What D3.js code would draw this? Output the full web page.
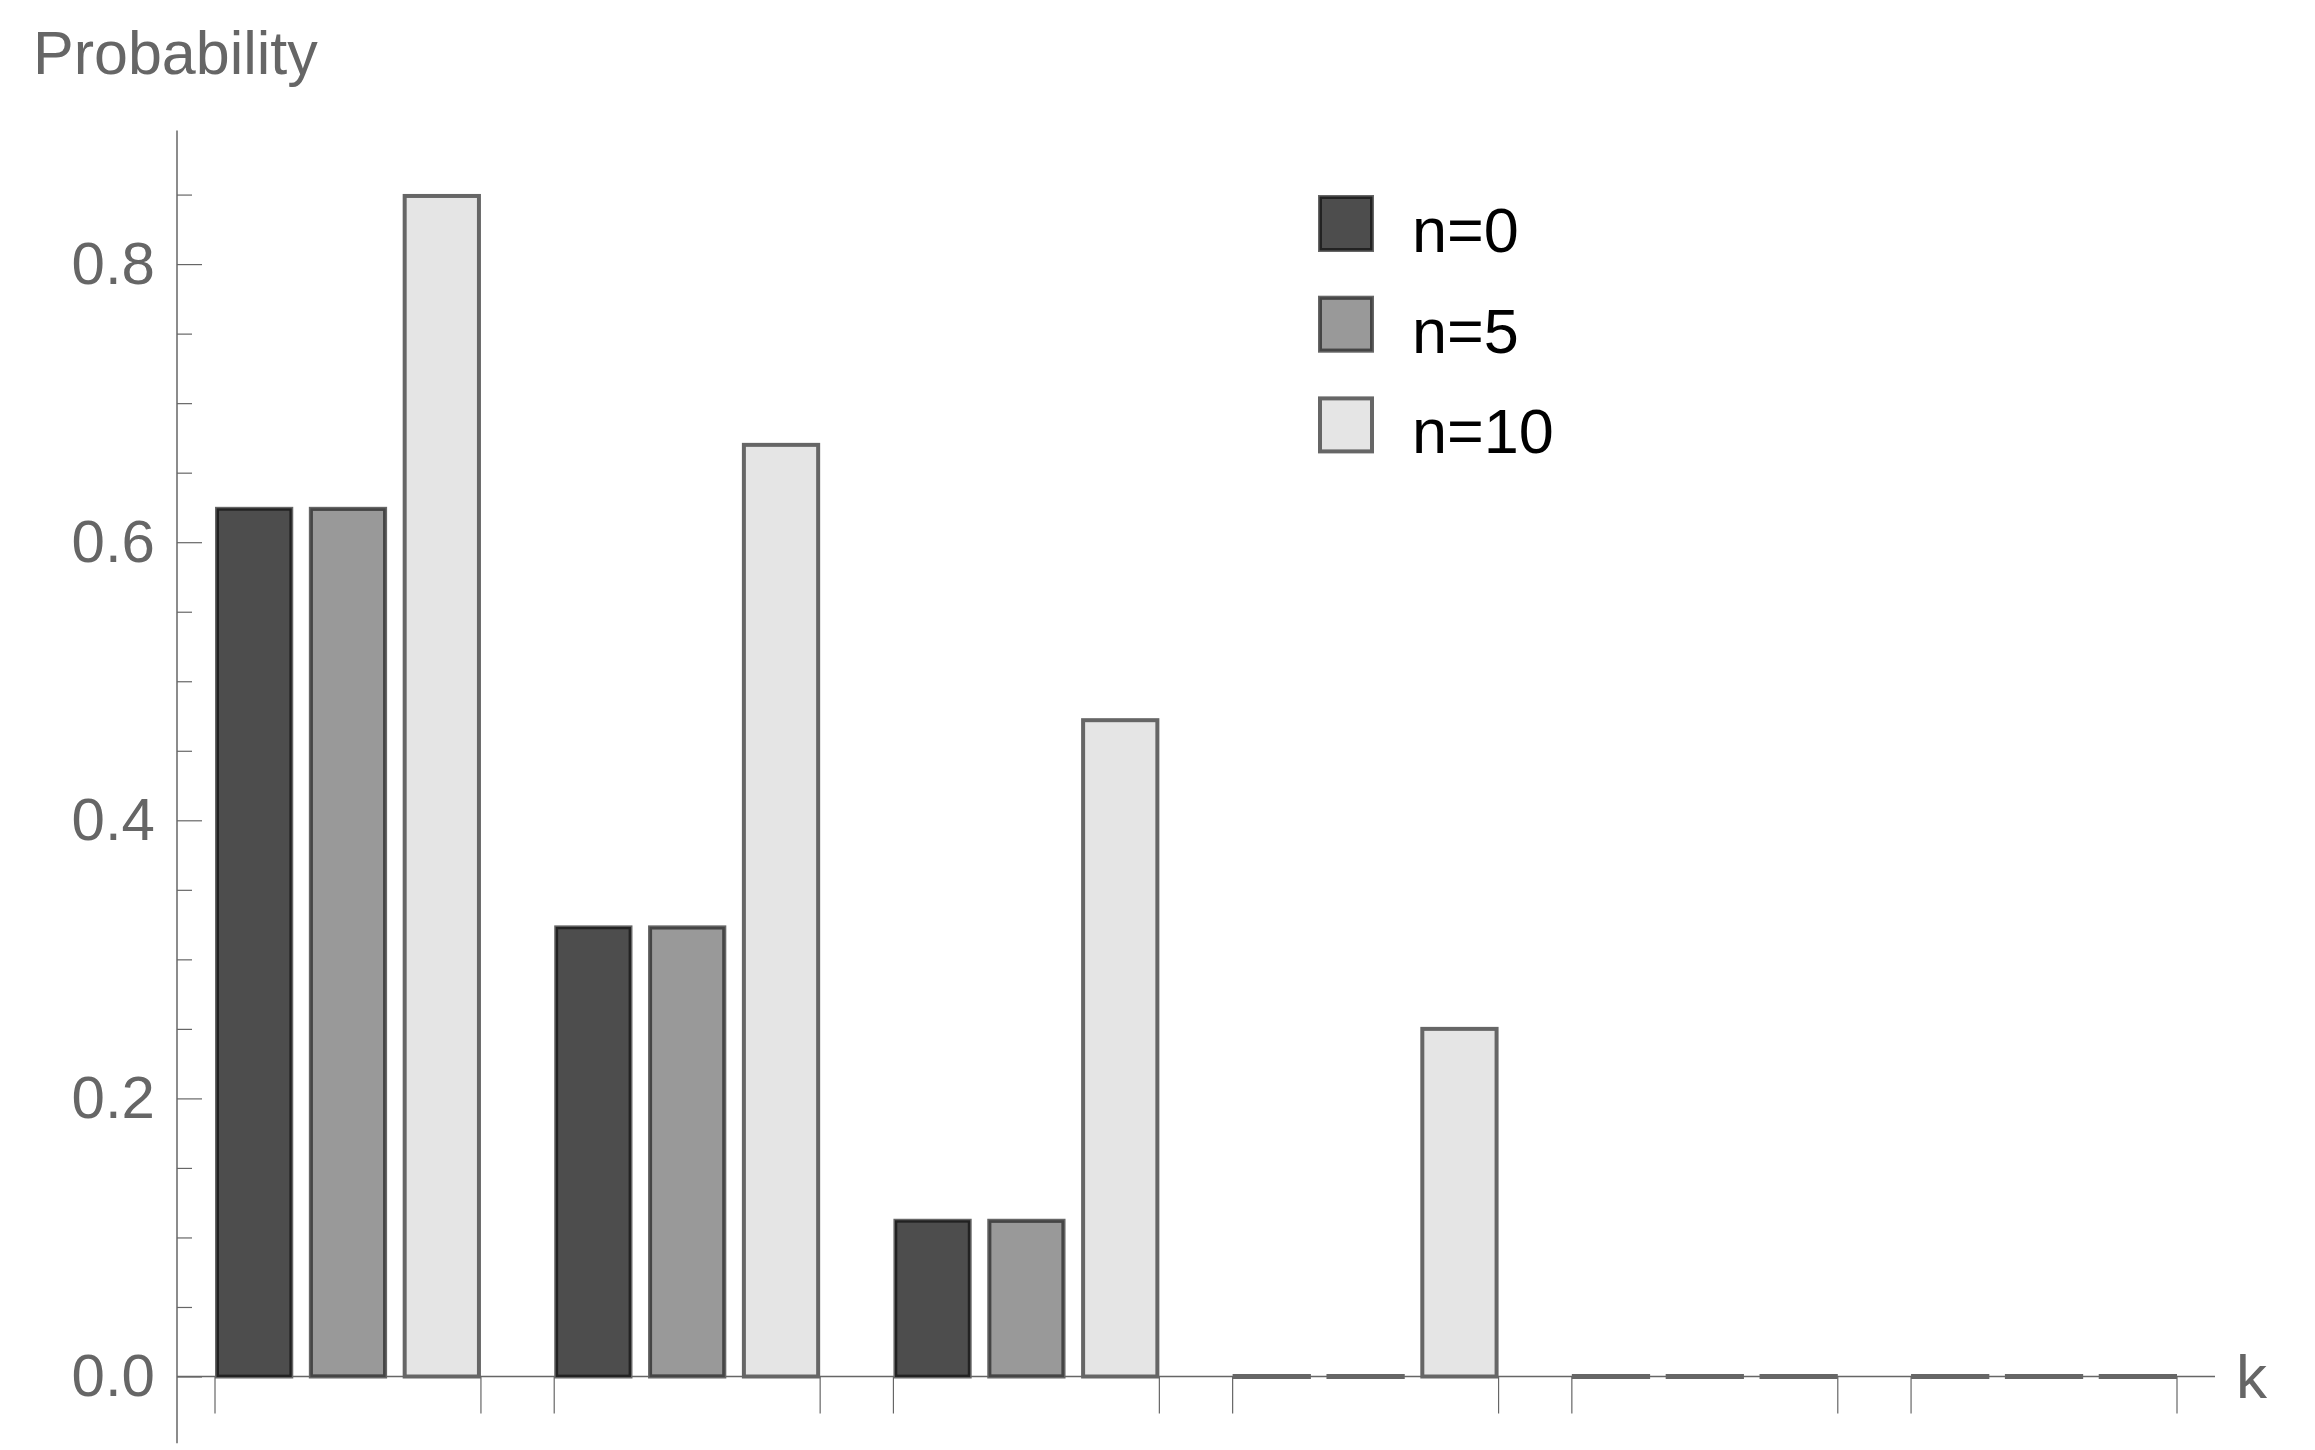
<!DOCTYPE html>
<html>
<head>
<meta charset="utf-8">
<script src="https://cdn.jsdelivr.net/npm/d3@7"></script>
<style>
  body { margin: 0; background: #fff; }
  text { font-family: "Liberation Sans", Arial, sans-serif; }
</style>
</head>
<body>
<script>
// data
var ks = [0, 1, 2, 3, 4, 5];
var seriesNames = ["n=0", "n=5", "n=10"];
var n0 = [0.624, 0.323, 0.112, 0, 0, 0];
var n5 = [0.624, 0.323, 0.112, 0, 0, 0];
var n10 = [0.849, 0.670, 0.472, 0.250, 0, 0];
var yTicks = [0, 0.2, 0.4, 0.6, 0.8];
var yMinor = [0.05, 0.1, 0.15, 0.25, 0.3, 0.35, 0.45, 0.5, 0.55, 0.65, 0.7, 0.75, 0.85];

var series = [n0, n5, n10];
var fills = ["#4d4d4d", "#999999", "#e5e5e5"];
var edges = ["#222222", "#454545", "#666666"];
var grey = "#666666";

var width = 2315,
    height = 1450,
    axisX = 177;

var svg = d3.select("body").append("svg")
    .attr("width", width)
    .attr("height", height);

var y = d3.scaleLinear()
    .domain([0, 0.8])
    .range([1376.5, 264.1]);

// groups, one per k
var x = d3.scaleBand()
    .domain(ks)
    .range([215, 2177])
    .paddingInner(0.216)
    .paddingOuter(0);

var xs = d3.scaleBand()
    .domain(d3.range(series.length))
    .range([0, x.bandwidth()])
    .paddingInner(0.166)
    .paddingOuter(0);

// y axis line
svg.append("line")
    .attr("x1", axisX).attr("x2", axisX)
    .attr("y1", y(-0.048)).attr("y2", y(0.896))
    .attr("stroke", grey).attr("stroke-width", 1.5);

// minor ticks
var minorAxis = d3.axisLeft(y)
    .tickValues(yMinor)
    .tickSizeInner(-15)
    .tickSizeOuter(0)
    .tickFormat("");
var gMinor = svg.append("g")
    .attr("transform", "translate(" + axisX + ",0)")
    .call(minorAxis);
gMinor.select(".domain").remove();
gMinor.selectAll("line").attr("stroke", grey).attr("stroke-width", 1.2);

// major ticks and labels
var yAxis = d3.axisLeft(y)
    .tickValues(yTicks)
    .tickSizeInner(-25)
    .tickSizeOuter(0)
    .tickPadding(22)
    .tickFormat(d3.format(".1f"));
var gy = svg.append("g")
    .attr("transform", "translate(" + axisX + ",0)")
    .call(yAxis);
gy.select(".domain").remove();
gy.selectAll("line").attr("stroke", grey).attr("stroke-width", 1.2);
gy.selectAll("text")
    .attr("fill", grey)
    .attr("font-size", 60)
    .attr("font-family", "Liberation Sans, Arial, sans-serif");

// x axis line
svg.append("line")
    .attr("x1", axisX).attr("x2", 2215)
    .attr("y1", y(0)).attr("y2", y(0))
    .attr("stroke", grey).attr("stroke-width", 1.5);

// x ticks at the edges of each group
ks.forEach(function(k) {
    [x(k), x(k) + x.bandwidth()].forEach(function(px) {
        svg.append("line")
            .attr("x1", px).attr("x2", px)
            .attr("y1", y(0)).attr("y2", y(0) + 37)
            .attr("stroke", grey).attr("stroke-width", 1.2);
    });
});

// draw a box with the two tone edge
function box(g, x0, y0, w, h, i) {
    g.append("rect")
        .attr("x", x0 + 2).attr("y", y0 + 2)
        .attr("width", w - 4).attr("height", Math.max(0, h - 4))
        .attr("fill", fills[i])
        .attr("stroke", grey)
        .attr("stroke-width", 4);
    if (i < 2 && h > 8) {
        g.append("rect")
            .attr("x", x0 + 2.75).attr("y", y0 + 2.75)
            .attr("width", w - 5.5).attr("height", h - 5.5)
            .attr("fill", "none")
            .attr("stroke", edges[i])
            .attr("stroke-width", 2.5);
    }
}

var bars = svg.append("g");
series.forEach(function(vals, i) {
    vals.forEach(function(v, j) {
        var bx = x(ks[j]) + xs(i);
        var top = y(v) - 2;
        var h = y(0) + 2 - top;
        if (v === 0) {
            bars.append("line")
                .attr("x1", bx).attr("x2", bx + xs.bandwidth())
                .attr("y1", y(0)).attr("y2", y(0))
                .attr("stroke", grey).attr("stroke-width", 5);
        } else {
            box(bars, bx, top, xs.bandwidth(), h, i);
        }
    });
});

// labels
svg.append("text")
    .attr("x", 33).attr("y", 74)
    .attr("fill", grey)
    .attr("font-size", 61)
    .text("Probability");

svg.append("text")
    .attr("x", 2236).attr("y", 1398)
    .attr("fill", grey)
    .attr("font-size", 62)
    .text("k");

// legend
var legend = svg.append("g");
seriesNames.forEach(function(name, i) {
    var ly = 195 + i * 100.7;
    box(legend, 1318, ly, 56, 57, i);
    legend.append("text")
        .attr("x", 1412).attr("y", ly + 57)
        .attr("fill", "#000")
        .attr("font-size", 63)
        .text(name);
});
</script>
</body>
</html>
